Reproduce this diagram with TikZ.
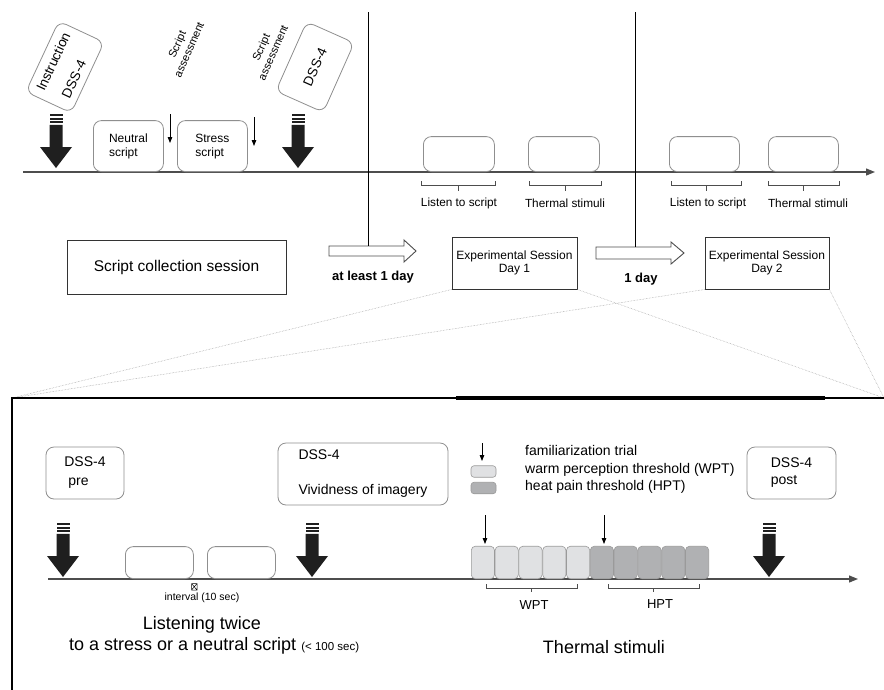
\documentclass[tikz,border=0pt]{standalone}
\usepackage{fontspec}
\setmainfont{Liberation Sans}
\usetikzlibrary{arrows.meta}
\definecolor{lineg}{HTML}{4D4D4D}
\definecolor{boxg}{HTML}{8F8F8F}
\definecolor{stimlight}{HTML}{E0E1E3}
\definecolor{stimdark}{HTML}{B0B1B3}
\definecolor{stimedge}{HTML}{9A9A9A}
\definecolor{dotg}{HTML}{9A9A9A}
\begin{document}
\begin{tikzpicture}[x=1pt,y=-1pt,
  rbox/.style={draw=boxg, line width=0.8pt, rounded corners=8pt, inner sep=2pt},
  sqbox/.style={draw=black!80, line width=1pt, fill=white, inner sep=2pt},
  tline/.style={draw=lineg, line width=1.2pt, -{Triangle[length=9pt,width=7pt]}},
  smallarr/.style={draw=black, line width=0.8pt, -{Triangle[length=6pt,width=4.5pt]}},
  brk/.style={draw=lineg, line width=0.9pt},
  zoomline/.style={draw=dotg, line width=0.5pt, densely dotted},
  vline/.style={draw=black, line width=1pt},
  harrow/.style={draw=lineg, line width=0.9pt, fill=white},
  stimbox/.style={draw=stimedge, line width=0.6pt, rounded corners=4pt, minimum width=23.2pt, minimum height=32.5pt, inner sep=0pt},
  legbox/.style={draw=stimedge, line width=0.6pt, rounded corners=3pt, minimum width=25pt, minimum height=11.5pt, inner sep=0pt},
  bigarrow/.pic={
    \fill[black!88] (-6.5,0) rectangle (6.5,2.2);
    \fill[black!88] (-6.5,3.6) rectangle (6.5,5.8);
    \fill[black!88] (-6.5,7.2) rectangle (6.5,9.4);
    \fill[black!88] (-6.5,10.8) -- (6.5,10.8) -- (6.5,33) -- (16,33) -- (0,54) -- (-16,33) -- (-6.5,33) -- cycle;
  }
]
\useasboundingbox[fill=white] (0,0) rectangle (884,689);

% ---------------- top timeline ----------------
\coordinate (tl0) at (23,172);
\coordinate (tl1) at (875,172);
\draw[tline] (tl0) -- (tl1);

\node[rbox, rotate=65, minimum width=78pt, minimum height=50pt, align=left,
      font=\fontsize{13.5}{26}\selectfont] (instr) at (65,67) {Instruction\\\hspace*{4pt}DSS-4};
\node[rbox, rotate=66, minimum width=76pt, minimum height=52pt,
      font=\fontsize{13.5}{16}\selectfont] (dsstop) at (315,67) {DSS-4};

\node[rotate=66, align=center, font=\fontsize{11}{13}\selectfont] (sa1) at (183,47) {Script\\assessment};
\node[rotate=66, align=center, font=\fontsize{11}{13}\selectfont] (sa2) at (267,50) {Script\\assessment};

\pic at (56,114) {bigarrow};
\pic at (298,114) {bigarrow};

\node[rbox, anchor=south west, minimum width=70pt, minimum height=51pt, align=left,
      font=\fontsize{12}{14}\selectfont] (neutral) at (93,172) {Neutral\\script};
\node[rbox, anchor=south west, minimum width=70pt, minimum height=51pt, align=left,
      font=\fontsize{12}{14}\selectfont] (stress) at (177,172) {Stress\\script};

\coordinate (s1a) at (170,114); \coordinate (s1b) at (170,143);
\coordinate (s2a) at (254,117); \coordinate (s2b) at (254,146);
\draw[smallarr] (s1a) -- (s1b);
\draw[smallarr] (s2a) -- (s2b);

% empty boxes on top timeline
\node[rbox, anchor=south west, minimum width=71pt, minimum height=35pt] (ls1) at (423,172) {};
\node[rbox, anchor=south west, minimum width=71pt, minimum height=35pt] (th1) at (528,172) {};
\node[rbox, anchor=south west, minimum width=70pt, minimum height=35pt] (ls2) at (669,172) {};
\node[rbox, anchor=south west, minimum width=70pt, minimum height=35pt] (th2) at (768,172) {};

% brackets
\draw[brk] (421,181) -- (421,185.5) -- (495,185.5) -- (495,181); \draw[brk] (458,185.5) -- (458,190.5);
\draw[brk] (529,181) -- (529,185.5) -- (601,185.5) -- (601,181); \draw[brk] (565,185.5) -- (565,190.5);
\draw[brk] (671,181) -- (671,185.5) -- (741,185.5) -- (741,181); \draw[brk] (706,185.5) -- (706,190.5);
\draw[brk] (768,181) -- (768,185.5) -- (839,185.5) -- (839,181); \draw[brk] (803.5,185.5) -- (803.5,190.5);

\node[font=\fontsize{11.8}{13}\selectfont] (lbl1) at (459,203) {Listen to script};
\node[font=\fontsize{11.8}{13}\selectfont] (lbl2) at (565,203) {Thermal stimuli};
\node[font=\fontsize{11.8}{13}\selectfont] (lbl3) at (708,203) {Listen to script};
\node[font=\fontsize{11.8}{13}\selectfont] (lbl4) at (808,203) {Thermal stimuli};

% session boxes
\node[sqbox, minimum width=219pt, minimum height=54pt, font=\fontsize{15.5}{18}\selectfont] (scs) at (176.5,267) {Script collection session};
\node[sqbox, minimum width=125pt, minimum height=52pt, align=center, font=\fontsize{12}{13}\selectfont] (day1) at (514.5,263) {Experimental Session\\Day 1};
\node[sqbox, minimum width=124pt, minimum height=52pt, align=center, font=\fontsize{12}{13}\selectfont] (day2) at (767,263) {Experimental Session\\Day 2};

% hollow arrows and vertical lines
\draw[harrow] (329,246) -- (404,246) -- (404,240) -- (416,251) -- (404,262) -- (404,256) -- (329,256) -- cycle;
\draw[harrow] (596,247) -- (671,247) -- (671,242) -- (684,253) -- (671,264) -- (671,259) -- (596,259) -- cycle;
\coordinate (v1a) at (368,12); \coordinate (v1b) at (368,246);
\coordinate (v2a) at (635,12); \coordinate (v2b) at (635,247);
\draw[vline] (v1a) -- (v1b);
\draw[vline] (v2a) -- (v2b);

\node[font=\bfseries\fontsize{13}{15}\selectfont] (gap1) at (373,277) {at least 1 day};
\node[font=\bfseries\fontsize{13}{15}\selectfont] (gap2) at (641,279) {1 day};

% ---------------- zoom frame ----------------
\coordinate (frtl) at (12,398);
\coordinate (frtr) at (884,398);
\coordinate (frbl) at (12,692);
\draw[zoomline] (day1.south west) -- (frtl);
\draw[zoomline] (day2.south west) -- (frtl);
\draw[zoomline] (day1.south east) -- (frtr);
\draw[zoomline] (day2.south east) -- (frtr);
\draw[line width=2pt] (frbl) -- (frtl) -- (frtr);
\draw[line width=4.5pt] (456,398) -- (825,398);

% ---------------- bottom timeline ----------------
\coordinate (bl0) at (48,579);
\coordinate (bl1) at (858,579);
\draw[tline] (bl0) -- (bl1);

\node[rbox, minimum width=78pt, minimum height=52pt, align=left, font=\fontsize{14}{19}\selectfont] (pre) at (85,473) {DSS-4\\\hspace*{4pt}pre};
\node[rbox, minimum width=170pt, minimum height=62pt, align=left, font=\fontsize{14}{17.5}\selectfont] (viv) at (363,474) {DSS-4\\[17.5pt]Vividness of imagery};
\node[rbox, minimum width=89pt, minimum height=52pt, align=left, font=\fontsize{14}{17}\selectfont] (post) at (791.5,473) {DSS-4\\post};

\pic at (63,523) {bigarrow};
\pic at (312,523) {bigarrow};
\pic at (769,523) {bigarrow};

\node[rbox, anchor=south west, minimum width=68pt, minimum height=32pt] (sc1) at (125,579) {};
\node[rbox, anchor=south west, minimum width=68pt, minimum height=32pt] (sc2) at (207,579) {};

% tofu glyph
\draw[line width=0.5pt] (191.5,583.5) rectangle (197,590) (191.5,583.5) -- (197,590) (197,583.5) -- (191.5,590);
\node[font=\fontsize{10.5}{12}\selectfont] (intv) at (202,598) {interval (10 sec)};

\node[font=\fontsize{18}{20}\selectfont] (lt1) at (202,625) {Listening twice};
\node[anchor=west, inner sep=0pt] (lt2) at (69,646) {\fontsize{18}{20}\selectfont to a stress or a neutral script \fontsize{11.5}{13}\selectfont(< 100 sec)};

% legend
\coordinate (lga) at (482,443); \coordinate (lgb) at (482,461);
\draw[smallarr] (lga) -- (lgb);
\node[legbox, fill=stimlight] (leg1) at (483.5,471.5) {};
\node[legbox, fill=stimdark] (leg2) at (483.5,488) {};
\node[anchor=west, align=left, inner sep=0pt, font=\fontsize{14}{17.5}\selectfont] (legtxt) at (525,469.5) {familiarization trial\\warm perception threshold (WPT)\\heat pain threshold (HPT)};

% stimuli
\foreach \i in {0,...,4} {
  \node[stimbox, fill=stimlight] (w\i) at ({482.9+\i*23.8},562.5) {};
}
\foreach \i in {0,...,4} {
  \node[stimbox, fill=stimdark] (h\i) at ({601.9+\i*23.8},562.5) {};
}
\coordinate (fa) at (485,515); \coordinate (fb) at (485,544);
\coordinate (ha) at (604,515); \coordinate (hb) at (604,544);
\draw[smallarr] (fa) -- (fb);
\draw[smallarr] (ha) -- (hb);

\draw[brk] (486,584) -- (486,588) -- (577,588) -- (577,584); \draw[brk] (531.5,588) -- (531.5,592);
\draw[brk] (608,584) -- (608,588) -- (699,588) -- (699,584); \draw[brk] (653.5,588) -- (653.5,592);
\node[font=\fontsize{13}{15}\selectfont] (wpt) at (534,605) {WPT};
\node[font=\fontsize{13}{15}\selectfont] (hpt) at (660,604) {HPT};

\node[font=\fontsize{18}{20}\selectfont] (thst) at (604,647) {Thermal stimuli};
\end{tikzpicture}
\end{document}
